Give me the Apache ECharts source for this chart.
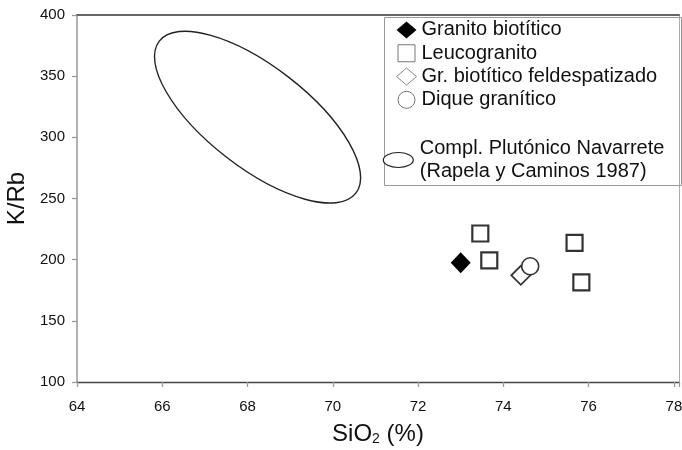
<!DOCTYPE html>
<html><head><meta charset="utf-8">
<script src="https://cdn.jsdelivr.net/npm/echarts@6/dist/echarts.min.js"></script>
<style>html,body{margin:0;padding:0;background:#fff}#c{width:682px;height:450px}</style>
</head><body><div id="c"></div>
<script>
// ---- data ----
const seriesNames = ['Granito biotítico', 'Leucogranito', 'Gr. biotítico feldespatizado', 'Dique granítico', 'Compl. Plutónico Navarrete'];
const granitoBiotitico = [[73.00, 197.5]];
const leucogranito = [[73.46, 221.4], [73.67, 199.5], [75.67, 213.7], [75.83, 181.5]];
const grBiotiticoFeldespatizado = [[74.41, 187.2]];
const diqueGranitico = [[74.63, 194.6]];
// field of Compl. Plutónico Navarrete: ends of the major axis and one end of the minor axis (SiO2, K/Rb)
const ellipseMajorAxisSiO2 = [65.93, 70.54];
const ellipseMajorAxisKRb = [378.6, 254.4];
const ellipseMinorEnd = [68.96, 349.3];
const legendSecondLine = '(Rapela y Caminos 1987)';
const xMin = 64, xMax = 78.12, xStep = 2;
const yMin = 100, yMax = 400, yStep = 50;

const FONT = "'Liberation Sans', Arial, sans-serif";
const chart = echarts.init(document.getElementById('c'), null, {renderer: 'canvas'});

const option = {
  animation: false,
  backgroundColor: '#fff',
  textStyle: {fontFamily: FONT},
  grid: {left: 77, top: 15, right: 3, bottom: 68, containLabel: false, outerBoundsMode: 'none'},
  graphic: [{
    type: 'rect', left: 382, top: 15, z: 1, silent: true,
    shape: {width: 297, height: 168},
    style: {fill: 'none', stroke: '#9a9a9a', lineWidth: 1}
  }],
  xAxis: [{
    type: 'value', min: xMin, max: xMax, interval: xStep,
    axisLine: {show: true, lineStyle: {color: '#444', width: 1.3}},
    axisTick: {show: true, length: 5, lineStyle: {color: '#999', width: 1.3}},
    splitLine: {show: false},
    axisLabel: {
      fontSize: 15, color: '#111', margin: 17, fontFamily: FONT,
      formatter: function (v) { return Math.abs(v / xStep - Math.round(v / xStep)) < 1e-6 ? String(v) : ''; }
    },
    name: '{a|SiO}{s|2}{a| (%)}', nameLocation: 'middle', nameGap: 40,
    nameTextStyle: {
      fontFamily: FONT, color: '#111',
      rich: {a: {fontSize: 24, color: '#111', fontFamily: FONT}, s: {fontSize: 14, color: '#111', fontFamily: FONT, padding: [10, 0, 0, 0]}}
    }
  }, {
    type: 'value', position: 'top', min: xMin, max: xMax,
    axisLine: {show: true, lineStyle: {color: '#666', width: 2}},
    axisTick: {show: false}, axisLabel: {show: false}, splitLine: {show: false}
  }],
  yAxis: [{
    type: 'value', min: yMin, max: yMax, interval: yStep,
    axisLine: {show: true, lineStyle: {color: '#999', width: 1.5}},
    axisTick: {show: true, length: 5, lineStyle: {color: '#999', width: 1.3}},
    splitLine: {show: false},
    axisLabel: {fontSize: 15, color: '#111', margin: 12, fontFamily: FONT},
    name: 'K/Rb', nameLocation: 'middle', nameGap: 45,
    nameTextStyle: {fontSize: 24, color: '#111', fontFamily: FONT}
  }, {
    type: 'value', position: 'right', min: yMin, max: yMax,
    axisLine: {show: true, lineStyle: {color: '#aaa', width: 1}},
    axisTick: {show: false}, axisLabel: {show: false}, splitLine: {show: false}
  }],
  legend: [{
    orient: 'vertical', left: 396, top: 18.3, padding: 0, itemGap: 0,
    itemWidth: 20, itemHeight: 17, selectedMode: false,
    textStyle: {fontSize: 20, lineHeight: 23.3, color: '#111', fontFamily: FONT},
    data: [
      {name: seriesNames[0], icon: 'diamond', itemStyle: {color: '#000', borderWidth: 0}},
      {name: seriesNames[1], icon: 'path://M0,0H10V10H0Z', itemStyle: {color: '#fff', borderColor: '#777', borderWidth: 1}},
      {name: seriesNames[2], icon: 'diamond', itemStyle: {color: '#fff', borderColor: '#888', borderWidth: 1}},
      {name: seriesNames[3], icon: 'circle', itemStyle: {color: '#fff', borderColor: '#777', borderWidth: 1}}
    ]
  }, {
    orient: 'vertical', left: 382.7, top: 136.5, padding: 0,
    itemWidth: 33, itemHeight: 15, selectedMode: false,
    textStyle: {fontSize: 20, lineHeight: 23.5, color: '#111', fontFamily: FONT},
    formatter: function (name) { return name + '\n' + legendSecondLine; },
    data: [{name: seriesNames[4], icon: 'path://M0,8A16,8 0 1,1 32,8A16,8 0 1,1 0,8Z',
      itemStyle: {color: '#fff', borderColor: '#222', borderWidth: 1.2}}]
  }],
  series: [{
    type: 'custom', name: seriesNames[4], silent: true, z: 2,
    data: [[ellipseMajorAxisSiO2[0], ellipseMajorAxisKRb[0], ellipseMajorAxisSiO2[1], ellipseMajorAxisKRb[1], ellipseMinorEnd[0], ellipseMinorEnd[1]]],
    encode: {x: [0, 2, 4], y: [1, 3, 5]},
    itemStyle: {color: '#fff', borderColor: '#222'},
    renderItem: function (params, api) {
      const p1 = api.coord([api.value(0), api.value(1)]);
      const p2 = api.coord([api.value(2), api.value(3)]);
      const pm = api.coord([api.value(4), api.value(5)]);
      const cx = (p1[0] + p2[0]) / 2, cy = (p1[1] + p2[1]) / 2;
      const rx = Math.hypot(p2[0] - p1[0], p2[1] - p1[1]) / 2;
      const ry = Math.hypot(pm[0] - cx, pm[1] - cy);
      const ang = Math.atan2(p2[1] - p1[1], p2[0] - p1[0]);
      return {
        type: 'ellipse', x: cx, y: cy, rotation: -ang,
        shape: {cx: 0, cy: 0, rx: rx, ry: ry},
        style: {fill: 'none', stroke: '#222', lineWidth: 1.4}
      };
    }
  }, {
    type: 'scatter', name: seriesNames[0], data: granitoBiotitico, silent: true, z: 3,
    symbol: 'diamond', symbolSize: [20, 21],
    itemStyle: {color: '#000', borderWidth: 0, opacity: 1}
  }, {
    type: 'scatter', name: seriesNames[1], data: leucogranito, silent: true, z: 3,
    symbol: 'rect', symbolSize: 16,
    itemStyle: {color: '#fff', borderColor: '#333', borderWidth: 2.2, opacity: 1}
  }, {
    type: 'scatter', name: seriesNames[2], data: grBiotiticoFeldespatizado, silent: true, z: 3,
    symbol: 'diamond', symbolSize: 19,
    itemStyle: {color: '#fff', borderColor: '#333', borderWidth: 1.8, opacity: 1}
  }, {
    type: 'scatter', name: seriesNames[3], data: diqueGranitico, silent: true, z: 3,
    symbol: 'circle', symbolSize: 17,
    itemStyle: {color: '#fff', borderColor: '#333', borderWidth: 1.6, opacity: 1}
  }]
};
chart.setOption(option);
</script>
</body></html>
